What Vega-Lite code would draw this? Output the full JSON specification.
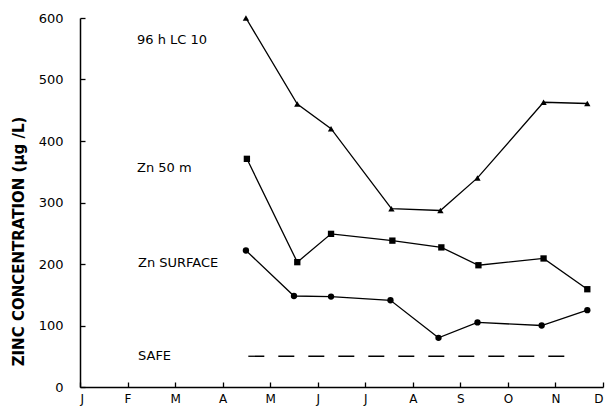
{
  "$schema": "https://vega.github.io/schema/vega-lite/v6.json",
  "width": 523,
  "height": 369,
  "autosize": {"type": "none"},
  "padding": {"left": 80, "top": 18, "right": 10, "bottom": 19},
  "background": "white",
  "config": {
    "view": {"stroke": null},
    "axis": {"grid": false, "domainColor": "black", "tickColor": "black", "labelColor": "black", "titleColor": "black", "labelFont": "DejaVu Sans", "titleFont": "DejaVu Sans", "domainWidth": 1.5, "tickWidth": 1.3}
  },
  "datasets": {
    "series": [
      {"series": "LC10", "month": 3.49, "zinc": 600},
      {"series": "LC10", "month": 4.57, "zinc": 460},
      {"series": "LC10", "month": 5.28, "zinc": 420},
      {"series": "LC10", "month": 6.55, "zinc": 290},
      {"series": "LC10", "month": 7.58, "zinc": 287},
      {"series": "LC10", "month": 8.36, "zinc": 340},
      {"series": "LC10", "month": 9.75, "zinc": 463},
      {"series": "LC10", "month": 10.67, "zinc": 461},
      {"series": "Zn50", "month": 3.51, "zinc": 371},
      {"series": "Zn50", "month": 4.57, "zinc": 203},
      {"series": "Zn50", "month": 5.28, "zinc": 249},
      {"series": "Zn50", "month": 6.57, "zinc": 238},
      {"series": "Zn50", "month": 7.6, "zinc": 227},
      {"series": "Zn50", "month": 8.38, "zinc": 198},
      {"series": "Zn50", "month": 9.75, "zinc": 209},
      {"series": "Zn50", "month": 10.67, "zinc": 159},
      {"series": "ZnSurf", "month": 3.49, "zinc": 222},
      {"series": "ZnSurf", "month": 4.5, "zinc": 148},
      {"series": "ZnSurf", "month": 5.28, "zinc": 147},
      {"series": "ZnSurf", "month": 6.53, "zinc": 141},
      {"series": "ZnSurf", "month": 7.54, "zinc": 80},
      {"series": "ZnSurf", "month": 8.36, "zinc": 105},
      {"series": "ZnSurf", "month": 9.71, "zinc": 100},
      {"series": "ZnSurf", "month": 10.67, "zinc": 125}
    ],
    "safe": [
      {"month": 3.54, "zinc": 50},
      {"month": 10.4, "zinc": 50}
    ],
    "labels": [
      {"label": "96 h  LC 10", "month": 1.2, "zinc": 564},
      {"label": "Zn  50 m", "month": 1.2, "zinc": 356},
      {"label": "Zn  SURFACE", "month": 1.22, "zinc": 202},
      {"label": "SAFE", "month": 1.22, "zinc": 50}
    ]
  },
  "layer": [
    {
      "data": {"name": "series"},
      "mark": {"type": "line", "color": "black", "strokeWidth": 1.3},
      "encoding": {
        "x": {"field": "month", "type": "quantitative", "scale": {"domain": [0, 11], "nice": false, "zero": false},
          "axis": {"values": [0,1,2,3,4,5,6,7,8,9,10,11], "labelExpr": "['J','F','M','A','M','J','J','A','S','O','N','D'][datum.value]", "title": null, "tickSize": -5, "labelPadding": 11, "labelFontSize": 12}},
        "y": {"field": "zinc", "type": "quantitative", "scale": {"domain": [0, 600], "nice": false},
          "axis": {"values": [0,100,200,300,400,500,600], "tickSize": -5, "labelPadding": 22, "labelFontSize": 13, "title": "ZINC CONCENTRATION (μg /L)", "titleFontSize": 15, "titleFontWeight": 600, "titleY": 223, "titleAlign": "center", "titlePadding": 12}},
        "detail": {"field": "series"}
      }
    },
    {
      "data": {"name": "series"},
      "mark": {"type": "point", "filled": true, "color": "black", "opacity": 1},
      "encoding": {
        "x": {"field": "month", "type": "quantitative"},
        "y": {"field": "zinc", "type": "quantitative"},
        "shape": {"field": "series", "type": "nominal", "scale": {"domain": ["LC10", "Zn50", "ZnSurf"], "range": ["triangle-up", "square", "circle"]}, "legend": null},
        "size": {"value": 40}
      }
    },
    {
      "data": {"name": "safe"},
      "mark": {"type": "line", "color": "black", "strokeWidth": 1.3, "strokeDash": [16, 14]},
      "encoding": {
        "x": {"field": "month", "type": "quantitative"},
        "y": {"field": "zinc", "type": "quantitative"}
      }
    },
    {
      "data": {"name": "labels"},
      "mark": {"type": "text", "align": "left", "baseline": "middle", "font": "DejaVu Sans", "fontSize": 13, "color": "black"},
      "encoding": {
        "x": {"field": "month", "type": "quantitative"},
        "y": {"field": "zinc", "type": "quantitative"},
        "text": {"field": "label"}
      }
    }
  ]
}
